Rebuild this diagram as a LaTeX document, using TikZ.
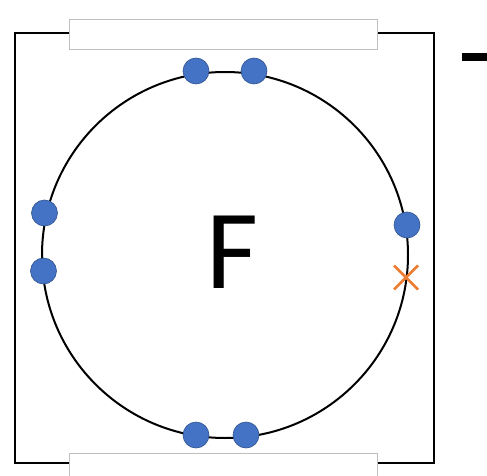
\documentclass[tikz,border=0pt]{standalone}
\usepackage{fontspec}
\setmainfont{Carlito}
\usetikzlibrary{calc}
\definecolor{dotblue}{HTML}{4472C4}
\definecolor{dotedge}{HTML}{2F528F}
\definecolor{xorange}{HTML}{ED7D31}
\tikzset{
  dot/.style={circle, fill=dotblue, draw=dotedge, line width=0.6pt, minimum size=26pt, inner sep=0pt},
  cover/.style={fill=white, draw=black!25, line width=0.7pt},
  xmark/.style={draw=xorange, line width=2.6pt}
}
\begin{document}
\begin{tikzpicture}[x=1pt,y=-1pt]
\useasboundingbox (0,0) rectangle (487,476);
% outer box
\draw[line width=2.6pt] (15,33) rectangle (434,463);
% cover rectangles
\draw[cover] (69,19) rectangle (377,49);
\draw[cover] (69,453) rectangle (377,480);
% circle
\node[circle, draw, line width=2pt, minimum size=366pt, inner sep=0pt] (ring) at (225,255) {};
% dots
\node[dot] (d1) at (196,71) {};
\node[dot] (d2) at (254,71) {};
\node[dot] (d3) at (44.5,213) {};
\node[dot] (d4) at (43.5,271) {};
\node[dot] (d5) at (407,225) {};
\node[dot] (d6) at (196,435) {};
\node[dot] (d7) at (246,435) {};
% orange x
\coordinate (xc) at (406,277.5);
\draw[xmark] ($(xc)+(-12,-12)$) -- ($(xc)+(12,12)$);
\draw[xmark] ($(xc)+(-12,12)$) -- ($(xc)+(12,-12)$);
% label
\node[font=\fontsize{113}{113}\selectfont, inner sep=0pt] (F) at (232.5,252) {F};
% minus bar at right edge
\fill (462,53.5) rectangle (492,61.5);
\end{tikzpicture}
\end{document}
